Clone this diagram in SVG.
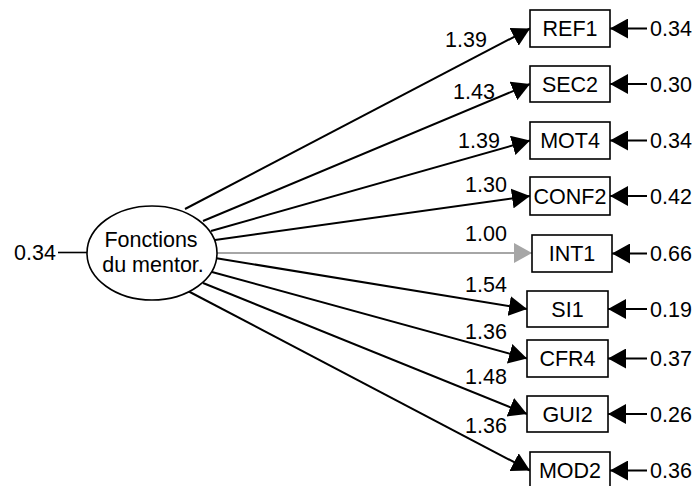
<svg xmlns="http://www.w3.org/2000/svg" width="694" height="486" viewBox="0 0 694 486">
  <style>
    text { font-family: "Liberation Sans", Arial, sans-serif; font-size: 21.5px; fill: #000; }
    .box { fill: #fff; stroke: #000; stroke-width: 1.6; }
    .lat { fill: #fff; stroke: #000; stroke-width: 1.6; }
    .path { stroke: #000; stroke-width: 2; fill: none; marker-end: url(#arr); }
    .fixed { stroke: #a6a6a6; stroke-width: 2; fill: none; marker-end: url(#arrg); }
    .err { stroke: #000; stroke-width: 2; fill: none; marker-end: url(#arr); }
    .plain { stroke: #000; stroke-width: 1.6; fill: none; }
    .mid { text-anchor: middle; }
  </style>
  <defs>
    <marker id="arr" viewBox="0 0 18 20" refX="18" refY="10" markerWidth="18" markerHeight="20" markerUnits="userSpaceOnUse" orient="auto">
      <path d="M0,0 L18,10 L0,20 z" fill="#000"/>
    </marker>
    <marker id="arrg" viewBox="0 0 18 20" refX="18" refY="10" markerWidth="18" markerHeight="20" markerUnits="userSpaceOnUse" orient="auto">
      <path d="M0,0 L18,10 L0,20 z" fill="#a6a6a6"/>
    </marker>
  </defs>

  <!-- loadings from the latent factor to each indicator -->
  <g id="connectors">
    <line class="path" x1="185" y1="209" x2="530" y2="28.5"/>
    <line class="path" x1="203" y1="221" x2="530" y2="84"/>
    <line class="path" x1="211" y1="231" x2="530" y2="140.5"/>
    <line class="path" x1="215" y1="240" x2="530" y2="196"/>
    <line class="fixed" x1="217" y1="253" x2="532" y2="253"/>
    <line class="path" x1="215" y1="258" x2="527" y2="309"/>
    <line class="path" x1="212" y1="272" x2="527" y2="358.5"/>
    <line class="path" x1="203" y1="283" x2="527" y2="414"/>
    <line class="path" x1="186" y1="290" x2="530" y2="470.5"/>

    <!-- residual arrows into the indicators -->
    <line class="err" x1="647" y1="28.5" x2="610" y2="28.5"/>
    <line class="err" x1="647" y1="84" x2="610" y2="84"/>
    <line class="err" x1="647" y1="140.5" x2="610" y2="140.5"/>
    <line class="err" x1="647" y1="196" x2="610" y2="196"/>
    <line class="err" x1="647" y1="253.5" x2="612" y2="253.5"/>
    <line class="err" x1="647" y1="309" x2="608" y2="309"/>
    <line class="err" x1="647" y1="358.5" x2="608" y2="358.5"/>
    <line class="err" x1="647" y1="414" x2="608" y2="414"/>
    <line class="err" x1="647" y1="470.5" x2="610" y2="470.5"/>

    <!-- factor variance -->
    <line class="plain" x1="58" y1="252.5" x2="88" y2="252.5"/>
  </g>

  <!-- loading values -->
  <g id="loadings">
    <text x="445" y="47">1.39</text>
    <text x="453" y="99">1.43</text>
    <text x="458" y="148">1.39</text>
    <text x="465" y="192">1.30</text>
    <text x="465" y="241">1.00</text>
    <text x="465" y="292">1.54</text>
    <text x="465" y="339">1.36</text>
    <text x="465" y="384">1.48</text>
    <text x="465" y="433">1.36</text>
  </g>

  <!-- residual variances -->
  <g id="residuals">
    <text x="650" y="36">0.34</text>
    <text x="650" y="91.5">0.30</text>
    <text x="650" y="148">0.34</text>
    <text x="650" y="203.5">0.42</text>
    <text x="650" y="261">0.66</text>
    <text x="650" y="316.5">0.19</text>
    <text x="650" y="366">0.37</text>
    <text x="650" y="421.5">0.26</text>
    <text x="650" y="478">0.36</text>
    <text x="14" y="260">0.34</text>
  </g>

  <g id="factor">
    <ellipse class="lat" cx="152" cy="253" rx="65" ry="47"/>
    <text class="mid" x="151" y="247">Fonctions</text>
    <text class="mid" x="153" y="272">du mentor.</text>
  </g>

  <g id="REF1"><rect class="box" x="530" y="10" width="80" height="37"/><text class="mid" x="570" y="36">REF1</text></g>
  <g id="SEC2"><rect class="box" x="530" y="66" width="80" height="36"/><text class="mid" x="570" y="91.5">SEC2</text></g>
  <g id="MOT4"><rect class="box" x="530" y="122" width="80" height="37"/><text class="mid" x="570" y="148">MOT4</text></g>
  <g id="CONF2"><rect class="box" x="530" y="177" width="80" height="38"/><text class="mid" x="570" y="203.5">CONF2</text></g>
  <g id="INT1"><rect class="box" x="532" y="235" width="80" height="37"/><text class="mid" x="572" y="261">INT1</text></g>
  <g id="SI1"><rect class="box" x="527" y="291" width="81" height="36"/><text class="mid" x="567.5" y="316.5">SI1</text></g>
  <g id="CFR4"><rect class="box" x="527" y="340" width="81" height="37"/><text class="mid" x="567.5" y="366">CFR4</text></g>
  <g id="GUI2"><rect class="box" x="527" y="396" width="81" height="36"/><text class="mid" x="567.5" y="421.5">GUI2</text></g>
  <g id="MOD2"><rect class="box" x="530" y="452" width="80" height="37"/><text class="mid" x="570" y="478">MOD2</text></g>
</svg>
